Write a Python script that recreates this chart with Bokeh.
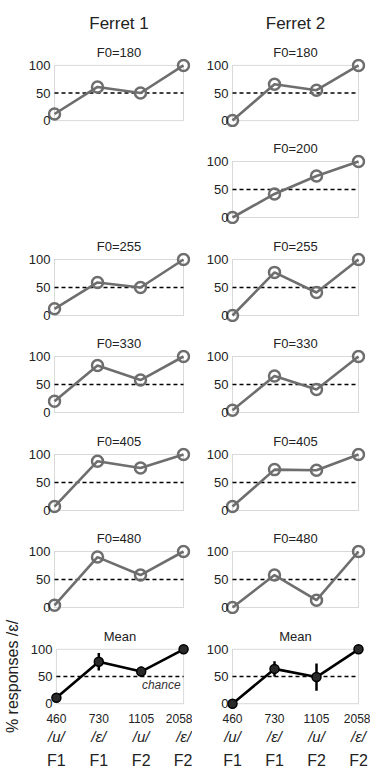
from bokeh.plotting import figure
from bokeh.models import Title, BoxAnnotation, LinearAxis, FixedTicker, Label, Spacer
from bokeh.layouts import column, row
from bokeh.embed import file_html
from bokeh.resources import INLINE

FONT = "Liberation Sans"

# ---------------- data ----------------
X = [1, 2, 3, 4]
FREQS = ["460", "730", "1105", "2058"]
VOWELS = ["/u/", "/\u025b/", "/u/", "/\u025b/"]
FORMANTS = ["F1", "F1", "F2", "F2"]
Y_TICKS = [0, 50, 100]
CHANCE = 50

F1_180 = [12, 61, 50, 100]
F2_180 = [0, 66, 55, 100]
F2_200 = [0, 42, 74, 100]
F1_255 = [12, 59, 50, 100]
F2_255 = [0, 77, 41, 100]
F1_330 = [20, 84, 58, 100]
F2_330 = [4, 65, 41, 100]
F1_405 = [7, 88, 76, 100]
F2_405 = [7, 73, 72, 100]
F1_480 = [4, 90, 58, 100]
F2_480 = [0, 58, 13, 100]
F1_MEAN = [11, 77, 59, 100]
F1_ERR = [0, 16, 9, 0]
F2_MEAN = [0, 64, 49, 100]
F2_ERR = [0, 14, 25, 0]

# ---------------- style / geometry ----------------
GRAY = "#6e6e6e"
LEFT_W, RIGHT_W = 192, 178
PAD = 7
BOX_H = 56
ROW_H = [127, 97, 98, 97, 98, 97, 157]


def panel(col, h, title, vals, header=None, mean=False, errs=None,
          ylabel=None, chance=False):
    if col == 0:
        W, bl, bw = LEFT_W, 47, 129
    else:
        W, bl, bw = RIGHT_W, 33, 126
    br = W - bl - bw - 2 * PAD
    xp = PAD / (bw / 3.0)
    yp = PAD / (BOX_H / 100.0)
    bb = 59 if mean else 0
    bt = h - bb - BOX_H - 2 * PAD
    p = figure(width=W, height=h,
               x_range=(X[0] - xp, X[-1] + xp),
               y_range=(Y_TICKS[0] - yp, Y_TICKS[-1] + yp),
               output_backend="svg", toolbar_location=None,
               x_axis_location=None, y_axis_location="left",
               min_border_left=bl, min_border_right=br,
               min_border_top=bt, min_border_bottom=bb, title=None)
    p.outline_line_color = None
    p.grid.visible = False
    p.background_fill_color = "white"
    p.border_fill_color = "white"

    p.add_layout(Title(text=title, align="center", text_font=FONT,
                       text_font_size="13px", text_font_style="normal",
                       text_color="#222222", standoff=-3), "above")
    if header:
        p.add_layout(Title(text=header, align="center", text_font=FONT,
                           text_font_size="17px", text_font_style="normal",
                           text_color="#222222", standoff=23), "above")

    box = BoxAnnotation(left=X[0], right=X[-1], bottom=Y_TICKS[0], top=Y_TICKS[-1],
                        fill_color=None, line_color="#808080", line_width=1,
                        level="underlay")
    p.add_layout(box)

    ya = p.yaxis[0]
    ya.ticker = FixedTicker(ticks=Y_TICKS)
    ya.axis_line_color = None
    ya.major_tick_line_color = None
    ya.minor_tick_line_color = None
    ya.major_tick_out = 0
    ya.major_tick_in = 0
    ya.major_label_standoff = -3
    ya.major_label_text_font = FONT
    ya.major_label_text_font_size = "13px"
    ya.major_label_text_color = "#222222"
    if ylabel:
        ya.axis_label = ylabel
        ya.axis_label_text_font = FONT
        ya.axis_label_text_font_size = "16px"
        ya.axis_label_text_font_style = "normal"
        ya.axis_label_text_color = "#222222"
        ya.axis_label_standoff = 7

    p.line(x=[X[0], X[-1]], y=[CHANCE, CHANCE], line_color="black",
           line_width=1.4, line_dash="4 3")

    if mean:
        p.segment(x0=X, y0=[v - e for v, e in zip(vals, errs)],
                  x1=X, y1=[v + e for v, e in zip(vals, errs)],
                  line_color="black", line_width=2.5)
        p.line(X, vals, line_color="black", line_width=2.6)
        p.scatter(X, vals, marker="circle", size=9, fill_color="#2a2a2a",
                  line_color="black", line_width=1.5)
        specs = [(FREQS, "12px", "normal", 3),
                 (VOWELS, "15px", "italic", 2),
                 (FORMANTS, "16px", "normal", 4)]
        for labels, fs, st, so in specs:
            ax = LinearAxis(ticker=FixedTicker(ticks=X),
                            major_label_overrides={x: l for x, l in zip(X, labels)})
            ax.axis_line_color = None
            ax.major_tick_line_color = None
            ax.minor_tick_line_color = None
            ax.major_tick_out = 0
            ax.major_tick_in = 0
            ax.major_label_standoff = so
            ax.major_label_text_font = FONT
            ax.major_label_text_font_size = fs
            ax.major_label_text_font_style = st
            ax.major_label_text_color = "#222222"
            p.add_layout(ax, "below")
        if chance:
            p.add_layout(Label(x=X[-1], y=CHANCE, text="chance", text_align="right",
                               text_baseline="top", x_offset=-3, y_offset=-1,
                               text_font=FONT, text_font_size="12px",
                               text_font_style="italic", text_color="#333333"))
    else:
        p.line(X, vals, line_color=GRAY, line_width=2.6)
        p.scatter(X, vals, marker="circle", size=11, fill_color=None,
                  line_color=GRAY, line_width=2.5)
    return p


rows = []
rows.append(row(panel(0, ROW_H[0], "F0=180", F1_180, header="Ferret 1"),
                panel(1, ROW_H[0], "F0=180", F2_180, header="Ferret 2")))
rows.append(row(Spacer(width=LEFT_W, height=ROW_H[1]),
                panel(1, ROW_H[1], "F0=200", F2_200)))
rows.append(row(panel(0, ROW_H[2], "F0=255", F1_255),
                panel(1, ROW_H[2], "F0=255", F2_255)))
rows.append(row(panel(0, ROW_H[3], "F0=330", F1_330),
                panel(1, ROW_H[3], "F0=330", F2_330)))
rows.append(row(panel(0, ROW_H[4], "F0=405", F1_405),
                panel(1, ROW_H[4], "F0=405", F2_405)))
rows.append(row(panel(0, ROW_H[5], "F0=480", F1_480),
                panel(1, ROW_H[5], "F0=480", F2_480)))
rows.append(row(panel(0, ROW_H[6], "Mean", F1_MEAN, mean=True, errs=F1_ERR,
                      ylabel="% responses /\u025b/", chance=True),
                panel(1, ROW_H[6], "Mean", F2_MEAN, mean=True, errs=F2_ERR)))

layout = column(*rows, spacing=0)

open("out.html", "w").write(file_html(layout, INLINE))
